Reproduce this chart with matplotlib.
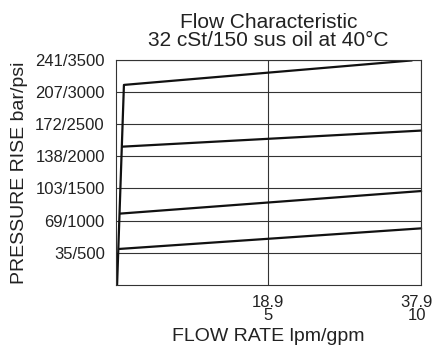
import matplotlib.pyplot as plt
import matplotlib.transforms as mtransforms

plt.rcParams['font.family'] = ['Liberation Sans', 'DejaVu Sans']

# 流量 (lpm) / 圧力上昇 (psi)
steep_lpm = [0.15, 1.0]
steep_psi = [0, 3110]
top_lpm = [1.0, 36.7]
top_psi = [3110, 3490]
curve_starts_lpm = [0.78, 0.58, 0.41]
curve_starts_psi = [2150, 1110, 560]
curve_ends_lpm = [37.9, 37.9, 37.9]
curve_ends_psi = [2400, 1460, 880]

y_ticks = [500, 1000, 1500, 2000, 2500, 3000, 3500]
y_labels = ['35/500', '69/1000', '103/1500', '138/2000', '172/2500', '207/3000', '241/3500']
x_ticks = [18.9, 37.9]
x_labels = ['18.9\n5', '37.9\n10']

fig = plt.figure(figsize=(4.34, 3.54), dpi=100)
ax = fig.add_axes([0.267, 0.195, 0.703, 0.636])

ax.plot(steep_lpm + top_lpm[1:], steep_psi + top_psi[1:], color='#111111', lw=1.6)
for xs, ps, xe, pe in zip(curve_starts_lpm, curve_starts_psi, curve_ends_lpm, curve_ends_psi):
    ax.plot([xs, xe], [ps, pe], color='#111111', lw=1.6, clip_on=False)

ax.set_xlim(0, 37.9)
ax.set_ylim(0, 3500)
ax.set_yticks(y_ticks)
ax.set_yticklabels(y_labels)
ax.set_xticks(x_ticks)
ax.set_xticklabels(x_labels, linespacing=0.9)
ax.tick_params(length=0, labelsize=12, colors='#222222', pad=8)
ax.tick_params(axis='x', pad=7)
ax.grid(True, color='#333333', lw=0.8)
ax.set_axisbelow(True)
for s in ax.spines.values():
    s.set_color('#333333')
    s.set_linewidth(0.8)

# 右端のラベルが切れないよう少し左へ
last = ax.get_xticklabels()[-1]
last.set_transform(last.get_transform() + mtransforms.ScaledTranslation(-3 / 72, 0, fig.dpi_scale_trans))

ax.set_xlabel('FLOW RATE lpm/gpm', fontsize=14, color='#222222', labelpad=3)
ax.set_ylabel('PRESSURE RISE bar/psi', fontsize=14, color='#222222', labelpad=5)
ax.set_title('Flow Characteristic\n32 cSt/150 sus oil at 40°C', fontsize=15, color='#222222', linespacing=0.95, pad=10)

fig.savefig('out.png', dpi=100)
